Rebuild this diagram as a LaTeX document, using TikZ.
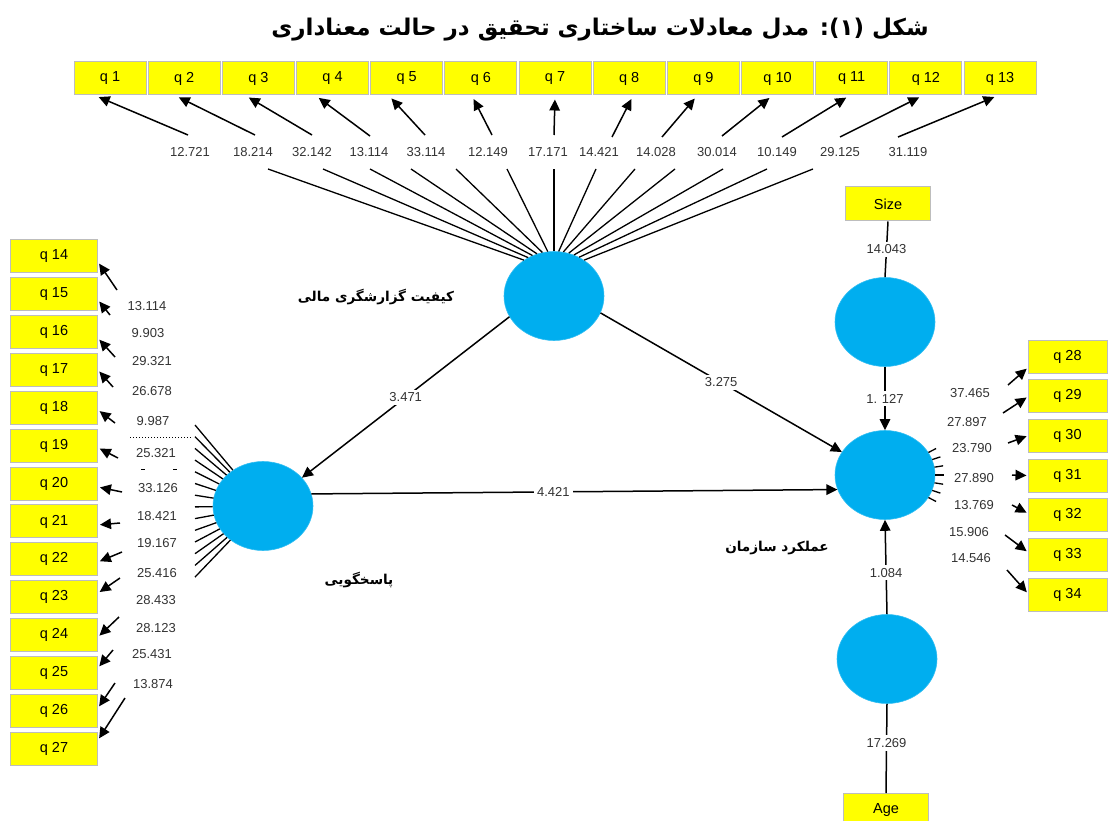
\documentclass[tikz,border=0pt]{standalone}
\usepackage{fontspec}
\setmainfont{Liberation Sans}
\newfontfamily\arabicfont[Script=Arabic]{DejaVu Sans}
\TeXXeTstate=1
\usetikzlibrary{shapes.geometric,arrows.meta}
\definecolor{qyellow}{HTML}{FFFF00}
\definecolor{qborder}{HTML}{BDBDBD}
\definecolor{lvblue}{HTML}{00AEEF}
\definecolor{numgray}{HTML}{333333}
\begin{document}
\begin{tikzpicture}[x=1pt,y=-1pt,
  qbox/.style={draw=qborder, line width=1pt, fill=qyellow, minimum width=72pt, minimum height=33pt, inner sep=0pt, font=\fontsize{14.5}{14.5}\selectfont},
  lv/.style={ellipse, fill=lvblue, draw=lvblue!80!white, line width=0.6pt, minimum width=100pt, minimum height=89pt, inner sep=0pt},
  num/.style={font=\fontsize{13}{13}\selectfont, text=numgray, inner sep=1pt},
  onl/.style={num, fill=white, inner sep=3pt},
  arr/.style={line width=1.5pt, -{Triangle[length=11pt,width=10.5pt]}},
  ln/.style={line width=1.5pt},
  fan/.style={line width=1.3pt},
  lvname/.style={font=\arabicfont\bfseries\fontsize{13.6}{13.6}\selectfont},
  ttl/.style={font=\arabicfont\bfseries\fontsize{23}{23}\selectfont}
]
\useasboundingbox (0,0) rectangle (1109,821);

% title
\node[ttl] (title) at (600,30) {\beginR شکل (۱): مدل معادلات ساختاری تحقیق در حالت معناداری\endR};

% latent variables
\node[lv] (fq) at (554,296) {};
\node[lv] (pa) at (263,506) {};
\node[lv] (pf) at (885,475) {};
\node[lv] (cs) at (885,322) {};
\node[lv] (ca) at (887,659) {};

% indicator boxes
\foreach \i in {1,...,13}
  \node[qbox] (q\i) at ({110+74.17*(\i-1)},78.5) {q \i};
\foreach \i in {14,...,27}
  \node[qbox, minimum width=87pt] (q\i) at (54,{256.5+37.85*(\i-14)}) {q \i};
\foreach \i in {28,...,34}
  \node[qbox, minimum width=79pt] (q\i) at (1067.5,{356.5+39.67*(\i-28)}) {q \i};
\node[qbox, minimum width=85pt, minimum height=34pt] (size) at (888,204) {Size};
\node[qbox, minimum width=85pt] (age) at (886,810) {Age};

% top fan (financial reporting quality -> q1..q13)
\foreach \i/\ang/\lx/\ux/\uy/\dx in {
  1/130/268/188/135/-15, 2/124/323/255/135/-9, 3/118/370/312/135/-13,
  4/112/411/370/136/-17, 5/105/456/425/135/-18, 6/98/507/492/135/-9,
  7/90/554/554/135/0, 8/84/596/612/137/4, 9/78/635/662/137/-6,
  10/71/675/722/136/-5, 11/64/723/782/137/-2, 12/57/767/840/137/-3,
  13/50/813/898/137/-2} {
  \coordinate (lo\i) at (\lx,169);
  \coordinate (up\i) at (\ux,\uy);
  \draw[fan] (fq.\ang) -- (lo\i);
  \draw[arr, shorten >=4pt] (up\i) -- ([xshift=\dx]q\i.south);
}
\foreach \t/\x [count=\k] in {12.721/190, 18.214/253, 32.142/312, 13.114/369,
  33.114/426, 12.149/488, 17.171/548, 14.421/599, 14.028/656, 30.014/717,
  10.149/777, 29.125/840, 31.119/908}
  \node[num] (tl\k) at (\x,152) {\t};

% left fan (accountability -> q14..q27)
\foreach \k in {0,...,13} {
  \coordinate (fo\k) at (195,{425+11.7*\k});
  \draw[fan] (pa) -- (fo\k);
}
\foreach \i/\tx/\ty/\dy in {14/117/290/-5.5, 15/110/315/-5.6, 16/115/357/-6,
  17/113/387/0, 18/115/423/-2, 19/118/458/-2, 20/122/492/-3.4,
  21/120/523/-3.5, 22/122/552/-2.7, 23/120/578/4, 24/119/617/-2,
  25/113/650/5, 26/115/683/2.7, 27/125/698/8.5} {
  \coordinate (la\i) at (\tx,\ty);
  \draw[arr, shorten >=2pt] (la\i) -- ([yshift=\dy]q\i.east);
}
\foreach \t/\x/\y [count=\k] in {13.114/147/306, 9.903/148/333, 29.321/152/361,
  26.678/152/391, 9.987/153/421, 25.321/156/453, 33.126/158/488,
  18.421/157/516, 19.167/157/543, 25.416/157/573, 28.433/156/600,
  28.123/156/628, 25.431/152/654, 13.874/153/684}
  \node[num] (ll\k) at (\x,\y) {\t};
\draw[dotted, line width=1pt] (130,437) -- (192,437);
\draw[dash pattern=on 4pt off 28pt, line width=1pt] (141,469) -- (192,469);

% right side (performance -> q28..q34)
\foreach \a [count=\k] in {30,20,10,0,-10,-20,-30} {
  \coordinate (tk\k) at ({885+59*cos(\a)},{475-53*sin(\a)});
  \draw[fan] (pf) -- (tk\k);
}
\foreach \i/\tx/\ty/\dy in {28/1008/385/-11.5, 29/1003/413/-0.8, 30/1008/443/0,
  31/1012/475/0, 32/1012/505/2, 33/1005/535/3, 34/1007/570/1.5} {
  \coordinate (ra\i) at (\tx,\ty);
  \draw[arr, shorten >=1pt] (ra\i) -- ([yshift=\dy]q\i.west);
}
\foreach \t/\x/\y [count=\k] in {37.465/970/393, 27.897/967/422, 23.790/972/448,
  27.890/974/478, 13.769/974/505, 15.906/969/532, 14.546/971/558}
  \node[num] (rl\k) at (\x,\y) {\t};

% structural paths
\draw[arr] (fq.205) -- node[onl, pos=0.5] (p1) {3.471} (pa.36);
\draw[arr] (fq.340) -- node[onl, pos=0.5] (p2) {3.275} (pf.152);
\draw[arr] (pa.14) -- node[onl, pos=0.46] (p3) {4.421} (pf.197);
\draw[ln] (size.south) -- node[onl, pos=0.5] (p4) {14.043} (cs.north);
\draw[arr] (cs.south) -- node[onl, pos=0.5] (p5) {1. 127} (pf.north);
\draw[arr] (ca.north) -- node[onl, pos=0.44] (p6) {1.084} (pf.south);
\draw[ln] (age.north) -- node[onl, pos=0.56] (p7) {17.269} (ca.south);

% latent variable names
\node[lvname] (nfq) at (376,297) {\beginR کیفیت گزارشگری مالی\endR};
\node[lvname] (npa) at (359,580) {\beginR پاسخگویی\endR};
\node[lvname] (npf) at (777,548) {\beginR عملکرد سازمان\endR};
\end{tikzpicture}
\end{document}
